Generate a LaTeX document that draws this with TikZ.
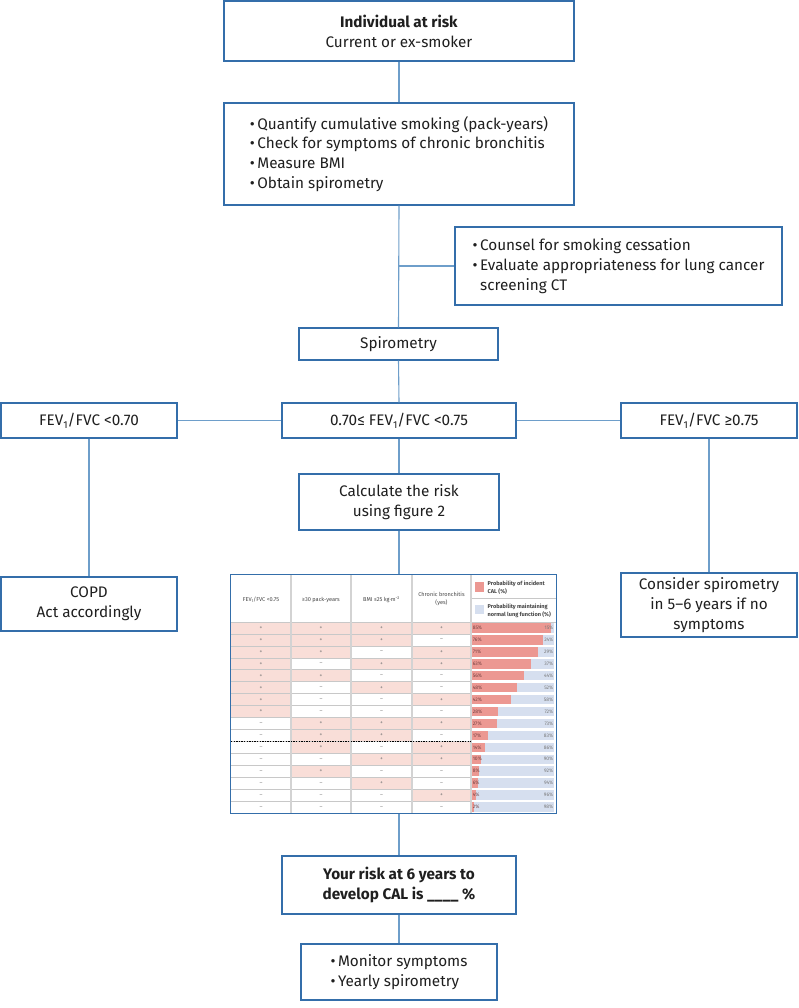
\documentclass[tikz,border=0pt]{standalone}
\usepackage{fontspec}
\setmainfont{Fira Sans}
\definecolor{bxb}{RGB}{52,110,170}
\definecolor{lnb}{RGB}{110,158,202}
\definecolor{pinkc}{RGB}{249,222,216}
\definecolor{redbar}{RGB}{236,152,146}
\definecolor{bluebar}{RGB}{214,223,239}
\definecolor{gridg}{RGB}{200,200,200}
\definecolor{txtg}{RGB}{120,120,120}
\definecolor{hdrg}{RGB}{70,70,70}
\newcommand{\lsub}[1]{\raisebox{-0.4ex}{\fontsize{10}{10}\selectfont #1}}
\newcommand{\tsub}[1]{\raisebox{-0.3ex}{\fontsize{4}{4}\selectfont #1}}
\begin{document}
\begin{tikzpicture}[x=1pt,y=-1pt,
  box/.style={draw=bxb, line width=1.1pt, fill=white, inner sep=0pt, align=center,
    font=\fontsize{15.3}{19.8}\selectfont, text=black!88},
  conn/.style={draw=lnb, line width=1.1pt},
  sgn/.style={inner sep=0pt, font=\fontsize{5.6}{5.6}\selectfont, text=txtg},
  hdr/.style={inner sep=0pt, align=center, font=\fontsize{5.6}{8.2}\selectfont, text=hdrg},
  leg/.style={inner sep=0pt, align=left, anchor=west, font=\fontsize{5.6}{8.4}\selectfont\bfseries, text=hdrg},
  pctl/.style={inner sep=0pt, anchor=west, font=\fontsize{5}{5}\selectfont, text=black!60!red!50!gray},
  pctr/.style={inner sep=0pt, anchor=east, font=\fontsize{5}{5}\selectfont, text=txtg}]
\useasboundingbox (0,0) rectangle (798,1008);

% boxes
\node[box, minimum width=350pt, minimum height=60pt] (top) at (399,31)
  {\textbf{Individual at risk}\\Current or ex-smoker};
\node[box, minimum width=350pt, minimum height=102pt, align=left] (bul) at (399,154)
  {•\,Quantify cumulative smoking (pack-years)\\
   •\,Check for symptoms of chronic bronchitis\\
   •\,Measure BMI\\
   •\,Obtain spirometry};
\node[box, minimum width=327pt, minimum height=78pt, align=left] (cou) at (618.5,266)
  {•\,Counsel for smoking cessation\\
   •\,Evaluate appropriateness for lung cancer\\
   \phantom{•\,}screening CT};
\node[box, minimum width=199pt, minimum height=32pt] (spi) at (398.5,344) {Spirometry};
\node[box, minimum width=176pt, minimum height=35pt] (fl) at (89,420.5)
  {FEV\lsub{1}/FVC <0.70};
\node[box, minimum width=234pt, minimum height=35pt] (fm) at (399,420.5)
  {0.70≤ FEV\lsub{1}/FVC <0.75};
\node[box, minimum width=176pt, minimum height=35pt] (fr) at (709,420.5)
  {FEV\lsub{1}/FVC ≥0.75};
\node[box, minimum width=200pt, minimum height=56pt] (calc) at (399,502)
  {Calculate the risk\\using figure 2};
\node[box, minimum width=176pt, minimum height=54pt] (copd) at (89,604)
  {COPD\\Act accordingly};
\node[box, minimum width=176pt, minimum height=64pt] (cons) at (709,605)
  {Consider spirometry\\in 5–6 years if no\\symptoms};
\node[box, minimum width=234pt, minimum height=58pt, font=\fontsize{15.3}{19.8}\selectfont\bfseries] (risk) at (399,885)
  {Your risk at 6 years to\\develop CAL is \_\_\_\_ \%};
\node[box, minimum width=196pt, minimum height=56pt, align=left] (mon) at (399,972)
  {•\,Monitor symptoms\\•\,Yearly spirometry};

% table frame node
\node[inner sep=0pt, minimum width=325pt, minimum height=238pt] (tbl) at (393.5,694) {};

% connectors
\draw[conn] (top.south) -- (bul.north);
\draw[conn] (bul.south) -- (spi.north);
\draw[conn] (spi.north |- cou.west) -- (cou.west);
\draw[conn] (spi.south) -- (fm.north);
\draw[conn] (fl.east) -- (fm.west);
\draw[conn] (fm.east) -- (fr.west);
\draw[conn] (fl.south) -- (copd.north);
\draw[conn] (fm.south) -- (calc.north);
\draw[conn] (fr.south) -- (cons.north);
\draw[conn] (calc.south) -- (calc.south |- tbl.north);
\draw[conn] (risk.north |- tbl.south) -- (risk.north);
\draw[conn] (risk.south) -- (mon.north);

% table
\fill[white] (tbl.north west) rectangle (tbl.south east);
\foreach \r/\sa/\sb/\sc/\sd/\p in {
  1/1/1/1/1/85, 2/1/1/1/0/76, 3/1/1/0/1/71, 4/1/0/1/1/63,
  5/1/1/0/0/56, 6/1/0/1/0/48, 7/1/0/0/1/42, 8/1/0/0/0/28,
  9/0/1/1/1/27, 10/0/1/1/0/17, 11/0/1/0/1/14, 12/0/0/1/1/10,
  13/0/1/0/0/8, 14/0/0/1/0/6, 15/0/0/0/1/4, 16/0/0/0/0/2}{
  \pgfmathsetmacro\yt{622+(\r-1)*11.9375}
  \pgfmathsetmacro\yb{\yt+11.9375}
  \pgfmathsetmacro\ym{\yt+5.97}
  \pgfmathtruncatemacro\q{100-\p}
  \foreach \s [count=\c] in {\sa,\sb,\sc,\sd}{
    \pgfmathsetmacro\xl{{231,291,351,412}[\c-1]}
    \pgfmathsetmacro\xr{{291,351,412,471}[\c-1]}
    \ifnum\s=1 \fill[pinkc] (\xl,\yt) rectangle (\xr,\yb); \fi
    \node[sgn] (s\r-\c) at ({(\xl+\xr)/2},\ym) {\ifnum\s=1 +\else –\fi};
  }
  \fill[bluebar] (472,\yt+1.2) rectangle (554,\yb-1.2);
  \fill[redbar] (472,\yt+1.2) rectangle ({472+0.93*\p},\yb-1.2);
  \node[pctl] (pl\r) at (472.6,\ym) {\p\%};
  \node[pctr] (pr\r) at (553.5,\ym) {\q\%};
}
\foreach \r in {1,...,15}{
  \draw[gridg, line width=0.6pt] (231,{622+\r*11.9375}) -- (471,{622+\r*11.9375});
}
% header lines and columns
\draw[gridg, line width=0.6pt] (231,622) -- (556,622);
\draw[gridg, line width=0.6pt] (471,598.5) -- (556,598.5);
\foreach \x in {291,351,412,471}{
  \draw[gridg!80, line width=1.4pt] (\x,575) -- (\x,813);
}
\draw[black, line width=0.8pt, dash pattern=on 1.3pt off 1.3pt] (231,741.5) -- (471,741.5);
% header text
\node[hdr] (h1) at (261,600) {FEV\tsub{1}/FVC <0.75};
\node[hdr] (h2) at (321,600) {≥30 pack-years};
\node[hdr] (h3) at (381.5,600) {BMI ≤25 kg·m\textsuperscript{−2}};
\node[hdr] (h4) at (441.5,599) {Chronic bronchitis\\(yes)};
\fill[redbar] (475,582) rectangle (484,592);
\fill[bluebar] (475,605) rectangle (484,614);
\node[leg] (l1) at (487.5,587.5) {Probability of incident\\CAL (\%)};
\node[leg] (l2) at (487.5,611) {Probability maintaining\\normal lung function (\%)};
\draw[bxb, line width=0.9pt] (tbl.north west) rectangle (tbl.south east);
\end{tikzpicture}
\end{document}
